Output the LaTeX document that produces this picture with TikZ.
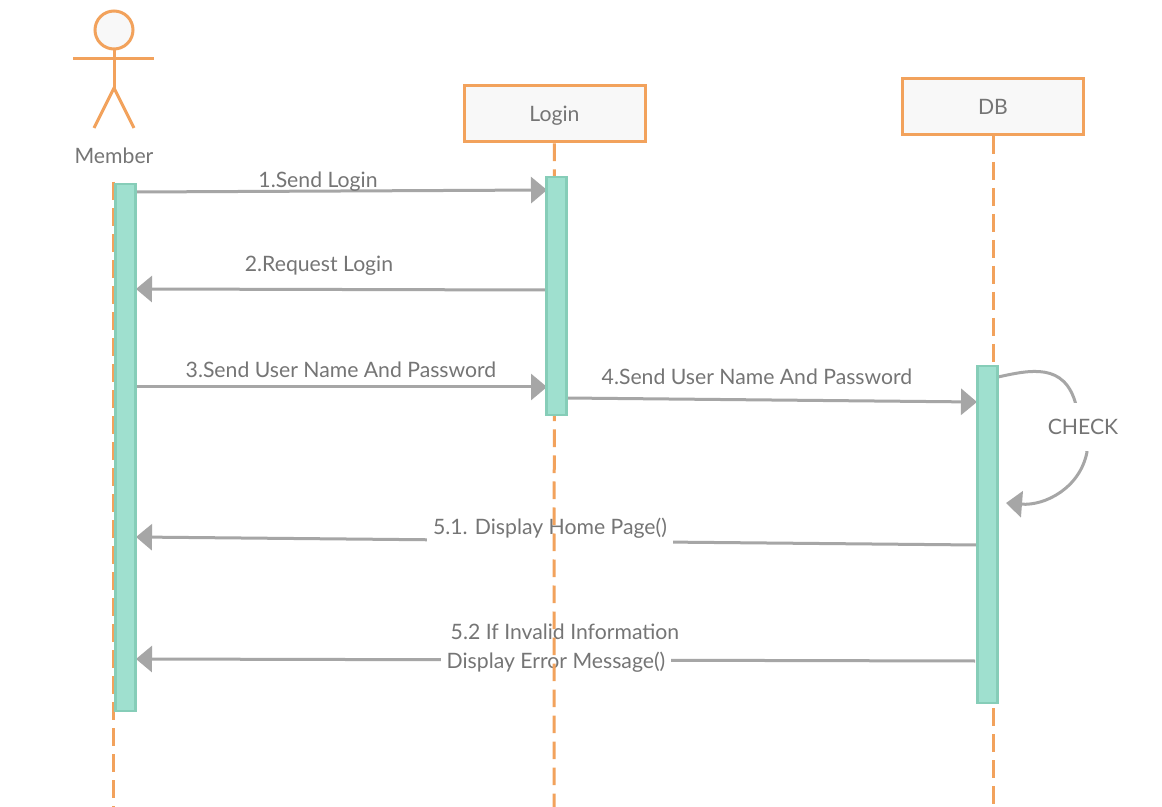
\documentclass[tikz,border=0pt]{standalone}
\usepackage{fontspec}
\setmainfont{Lato}
\usetikzlibrary{arrows.meta}
\definecolor{lineorange}{HTML}{F2A25C}
\definecolor{msggray}{HTML}{A6A6A6}
\definecolor{textgray}{HTML}{757575}
\definecolor{barfill}{HTML}{9FE0CF}
\definecolor{bardraw}{HTML}{86CDB8}
\definecolor{boxfill}{HTML}{F8F8F8}
\tikzset{
  actorline/.style={draw=lineorange, line width=1.5pt},
  lifeline/.style={draw=lineorange, line width=1.5pt, dash pattern=on 8.8pt off 4.2pt},
  classbox/.style={draw=lineorange, fill=boxfill, line width=1.5pt, minimum width=90.5pt, minimum height=28pt, text=textgray, font=\fontsize{10.6}{12}\selectfont},
  activebar/.style={draw=bardraw, fill=barfill, line width=1.2pt, minimum width=10pt, inner sep=0pt},
  msgline/.style={draw=msggray, line width=1.5pt, -{Triangle[length=8pt,width=13pt]}},
  msglabel/.style={text=textgray, inner sep=0pt, font=\fontsize{10.6}{15}\selectfont, align=center},
  gaplabel/.style={msglabel, fill=white, inner xsep=3pt, minimum height=16pt}
}
\begin{document}
\begin{tikzpicture}[x=0.5pt,y=-0.5pt]
\fill[white] (0,0) rectangle (1162,807);
\useasboundingbox (0,0) rectangle (1162,807);

\coordinate (memberfoot) at (113,807);
\coordinate (memberstart) at (113,182);
\coordinate (loginfoot) at (554,807);
\coordinate (dbfoot) at (993,807);

\coordinate (m1) at (136,192);
\coordinate (l1) at (547,190);
\coordinate (l2) at (546,290);
\coordinate (m2) at (136,289);
\coordinate (m3) at (136,387);
\coordinate (l3) at (547,387);
\coordinate (l4) at (566,398);
\coordinate (d4) at (977,402);
\coordinate (d5) at (977,545);
\coordinate (m5) at (136,537);
\coordinate (d6) at (975,661);
\coordinate (m6) at (136,659);
\coordinate (c1) at (998,377);
\coordinate (c2) at (1006,503);

\draw[msgline] (m1) -- (l1);
\draw[msgline] (l2) -- (m2);
\draw[msgline] (m3) -- (l3);
\draw[msgline] (l4) -- (d4);
\draw[msgline] (d5) -- (m5);
\draw[msgline] (d6) -- (m6);
\draw[msgline] (c1) .. controls (1030,370) and (1065,362) .. (1076,405)
  -- (1087,452) .. controls (1080,488) and (1045,506) .. (c2);

\node[msglabel] (send) at (318,182) {1.Send Login};
\node[msglabel] (request) at (319,266) {2.Request Login};
\node[msglabel] (userlogin) at (341,370) {3.Send User Name And Password};
\node[msglabel] (userdb) at (757,377) {4.Send User Name And Password};
\node[gaplabel] (home) at (550,528) {5.1. Display Home Page()};
\node[msglabel] (invalid) at (565,632) {5.2 If Invalid Information};
\node[gaplabel, minimum height=12pt] (error) at (556,662) {Display Error Message()};
\node[msglabel, fill=white, minimum width=40pt, minimum height=24pt] (check) at (1083,427) {CHECK};

\node[classbox, text depth=0pt] (loginbox) at (554.5,114) {Login};
\node[classbox] (dbbox) at (993,106.5) {DB};
\draw[lifeline] (memberstart) -- (memberfoot);
\draw[lifeline] (loginbox) -- (loginfoot);
\draw[lifeline] (dbbox) -- (dbfoot);

\node[activebar, minimum height=263.5pt] (memberbar) at (125.5,447.5) {};
\node[activebar, minimum height=119pt] (loginbar) at (556.5,296) {};
\node[activebar, minimum height=168.5pt] (dbbar) at (987.5,534.5) {};

\node[circle, draw=lineorange, fill=boxfill, line width=1.5pt, minimum size=19pt, inner sep=0pt] (head) at (114,30) {};
\coordinate (armleft) at (73,59);
\coordinate (armright) at (154,59);
\coordinate (hip) at (114,88);
\coordinate (footleft) at (94,128);
\coordinate (footright) at (134,128);
\draw[actorline] (head) -- (hip);
\draw[actorline] (armleft) -- (armright);
\draw[actorline] (footleft) -- (hip) -- (footright);
\node[msglabel] (member) at (114,156) {Member};
\end{tikzpicture}
\end{document}
